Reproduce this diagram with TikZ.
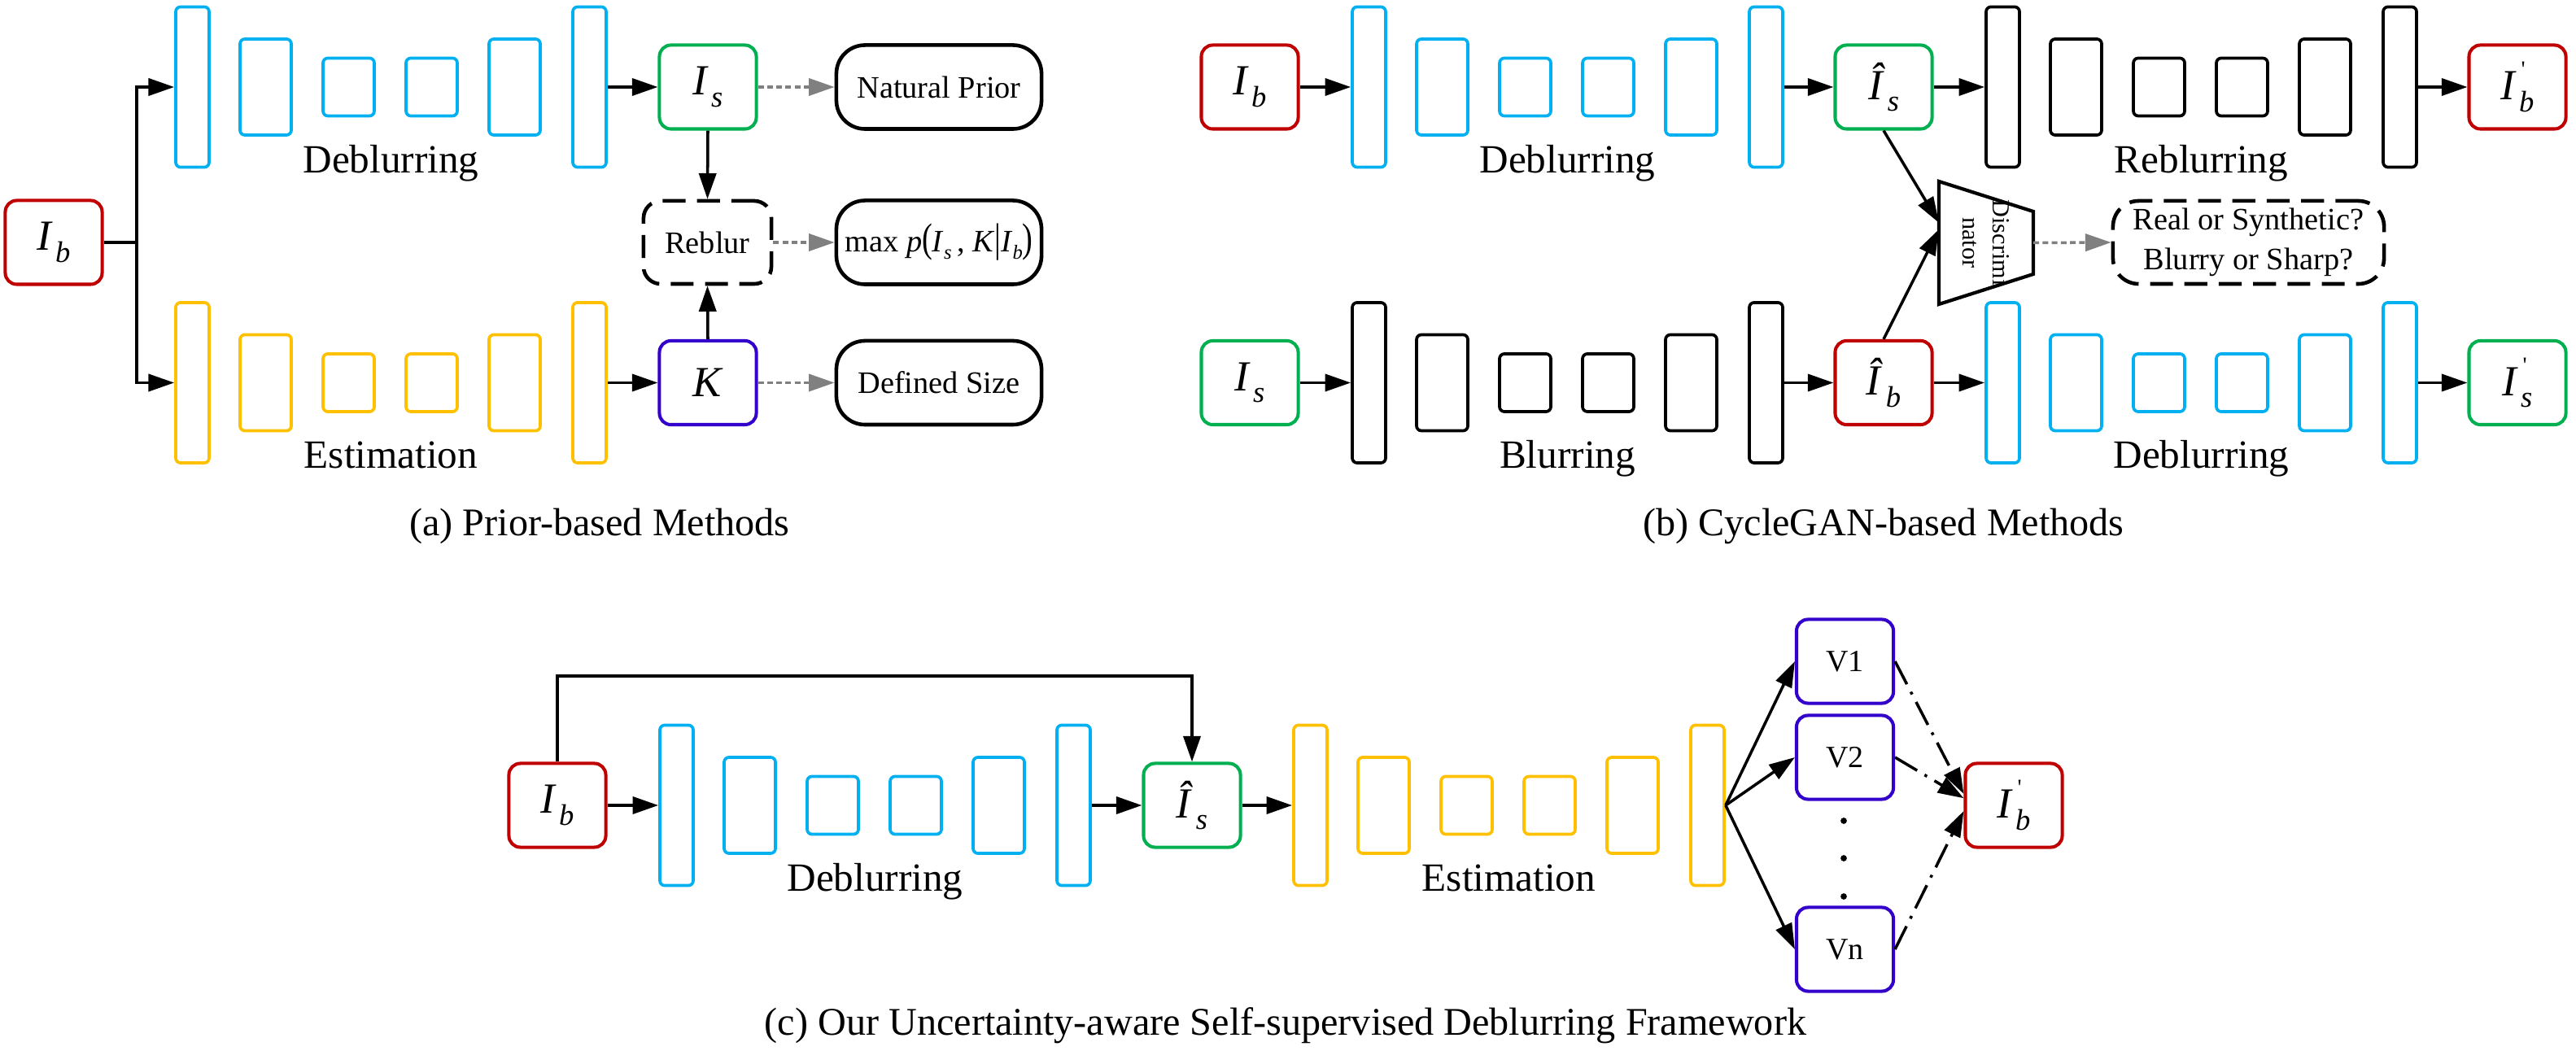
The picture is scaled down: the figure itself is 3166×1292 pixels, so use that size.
\documentclass[tikz,border=0pt]{standalone}
\usepackage{fontspec}
\setmainfont{Liberation Serif}
\usepackage{graphicx}
\usetikzlibrary{arrows.meta}
\usetikzlibrary{positioning}

\definecolor{cyanb}{HTML}{00B0F0}
\definecolor{ambr}{HTML}{FFC000}
\definecolor{redb}{HTML}{C00000}
\definecolor{greenb}{HTML}{00B050}
\definecolor{violb}{HTML}{3300CC}

\newcommand{\imsym}[3]{\textit{#1}\makebox[0pt][l]{\hspace{0.1em}\raisebox{1.15ex}{\fontsize{8}{8}\selectfont #3}}\raisebox{-0.6ex}{\fontsize{10.4}{10}\selectfont\hspace{0.08em}\textit{#2}}}
\newcommand{\smsub}[2]{\textit{#1}\raisebox{-0.5ex}{\fontsize{7}{7}\selectfont\textit{#2}}}
\newcommand{\tallc}[1]{\scalebox{1}[1.3]{#1}}

\begin{document}
\begin{tikzpicture}[x=0.01cm,y=-0.01cm,
    layer/.style={draw,line width=1.05pt,rounded corners=1.7pt,inner sep=0pt},
    symbox/.style={draw,line width=1.15pt,rounded corners=4pt,minimum width=1.19cm,minimum height=1.03cm,inner sep=0pt,font=\fontsize{15}{18}\selectfont},
    txtbox/.style={draw,line width=1.3pt,rounded corners=10pt,minimum width=2.52cm,minimum height=1.03cm,inner sep=0pt,font=\fontsize{10.9}{13}\selectfont},
    dashbox/.style={draw,line width=1.3pt,dash pattern=on 8pt off 4pt,rounded corners=6pt,minimum height=1.02cm,inner sep=0pt,font=\fontsize{10.9}{14}\selectfont},
    vbox/.style={draw=violb,line width=1.15pt,rounded corners=4pt,minimum width=1.19cm,minimum height=1.03cm,inner sep=0pt,font=\fontsize{10.8}{13}\selectfont},
    arr/.style={line width=1pt,-{Triangle[length=9pt,width=6pt]}},
    greyarr/.style={gray,line width=1pt,dash pattern=on 2pt off 1.2pt,-{Triangle[length=9pt,width=6pt]}},
    dotarr/.style={line width=1pt,dash pattern=on 9pt off 3pt on 1pt off 3pt,-{Triangle[length=9pt,width=6pt]}},
    lbl/.style={anchor=base,inner sep=0pt,font=\fontsize{14}{17}\selectfont},
    capt/.style={anchor=base,inner sep=0pt,font=\fontsize{13.7}{16}\selectfont}]
    \useasboundingbox (0,0) rectangle (3166,1292);

    \foreach \m/\L/\C/\col/\txt in {aD/216/107/cyanb/Deblurring, aE/216/470.5/ambr/Estimation,
        bD/1662/107/cyanb/Deblurring, bR/2441/107/black/Reblurring,
        bB/1662/470.5/black/Blurring, bE/2441/470.5/cyanb/Deblurring,
        cD/811/990/cyanb/Deblurring, cE/1590/990/ambr/Estimation} {
        \foreach \k/\dx/\w/\h in {1/20.5/0.41/1.97, 2/110.5/0.63/1.18, 3/212.5/0.63/0.71,
            4/314.5/0.63/0.71, 5/416.5/0.63/1.18, 6/508.5/0.41/1.97}
            \node[layer,draw=\col,minimum width=\w cm,minimum height=\h cm] (\m-\k) at (\L+\dx,\C) {};
        \node[lbl] at (\L+264.5,\C+105.5) {\txt};
    }

    % (a)
    \node[symbox,draw=redb] (aIb) at (66,298) {\imsym{I}{b}{}};
    \node[symbox,draw=greenb] (aIs) at (870,107) {\imsym{I}{s}{}};
    \node[symbox,draw=violb] (aK) at (870,470.5) {\textit{K}};
    \node[dashbox,minimum width=1.57cm] (aReb) at (869.5,298) {Reblur};
    \node[txtbox] (aNP) at (1154,107) {Natural Prior};
    \node[txtbox] (aMax) at (1154,298) {max \textit{p}\tallc{(}\smsub{I}{s}\,, \textit{K}\tallc{|}\smsub{I}{b}\tallc{)}};
    \node[txtbox] (aDS) at (1154,470.5) {Defined Size};
    \coordinate (aBr) at (168,298);

    \draw[line width=1pt] (aIb.east) -- (aBr);
    \draw[arr] (aBr) |- (aD-1.west);
    \draw[arr] (aBr) |- (aE-1.west);
    \draw[arr] (aD-6.east) -- (aIs.west);
    \draw[arr] (aE-6.east) -- (aK.west);
    \draw[arr] (aIs.south) -- (aReb.north);
    \draw[arr] (aK.north) -- (aReb.south);
    \draw[greyarr] (aIs.east) -- (aNP.west);
    \draw[greyarr] (aReb.east) -- (aMax.west);
    \draw[greyarr] (aK.east) -- (aDS.west);
    \node[capt] at (737,659) {(a) Prior-based Methods};

    % (b)
    \node[symbox,draw=redb] (bIb) at (1536,107) {\imsym{I}{b}{}};
    \node[symbox,draw=greenb] (bIs) at (1536,470.5) {\imsym{I}{s}{}};
    \node[symbox,draw=greenb] (bIsh) at (2315,107) {\imsym{\^{I}}{s}{}};
    \node[symbox,draw=redb] (bIbh) at (2315,470.5) {\imsym{\^{I}}{b}{}};
    \node[symbox,draw=redb] (bIbp) at (3094,107) {\imsym{I}{b}{\textquotesingle}};
    \node[symbox,draw=greenb] (bIsp) at (3094,470.5) {\imsym{I}{s}{\textquotesingle}};
    \node[dashbox,minimum width=3.33cm,rounded corners=9pt,align=center] (bReal) at (2763.5,298) {Real or Synthetic?\\Blurry or Sharp?};

    \coordinate (dW) at (2383,298.5);
    \coordinate (dE) at (2499,298.5);
    \draw[line width=1.2pt,line join=miter] (2383,223) -- (2499,260) -- (2499,337) -- (2383,374) -- cycle;
    \node[rotate=-90,align=center,inner sep=0pt,font=\fontsize{8.6}{10.5}\selectfont] (bDisc) at (2441,298.5) {Discrimi\\nator};

    \draw[arr] (bIb.east) -- (bD-1.west);
    \draw[arr] (bD-6.east) -- (bIsh.west);
    \draw[arr] (bIsh.east) -- (bR-1.west);
    \draw[arr] (bR-6.east) -- (bIbp.west);
    \draw[arr] (bIs.east) -- (bB-1.west);
    \draw[arr] (bB-6.east) -- (bIbh.west);
    \draw[arr] (bIbh.east) -- (bE-1.west);
    \draw[arr] (bE-6.east) -- (bIsp.west);
    \draw[arr] (bIsh.south) -- ([yshift=7pt]dW);
    \draw[arr] (bIbh.north) -- ([yshift=4.7pt]dW);
    \draw[greyarr] (dE) -- (bReal.west);
    \node[capt] at (2315,659) {(b) CycleGAN-based Methods};

    % (c)
    \node[symbox,draw=redb] (cIb) at (685,990) {\imsym{I}{b}{}};
    \node[symbox,draw=greenb] (cIsh) at (1465,990) {\imsym{\^{I}}{s}{}};
    \node[vbox] (cV1) at (2267.5,813) {V1};
    \node[vbox] (cV2) at (2267.5,931) {V2};
    \node[vbox] (cVn) at (2267.5,1167) {Vn};
    \node[symbox,draw=redb] (cIbp) at (2475,990) {\imsym{I}{b}{\textquotesingle}};
    \coordinate (cTop) at (685,831);
    \foreach \y in {1009,1055,1102}
        \fill (2266,\y) circle (1.1pt);

    \draw[arr] (cIb.north) -- (cTop) -| (cIsh.north);
    \draw[arr] (cIb.east) -- (cD-1.west);
    \draw[arr] (cD-6.east) -- (cIsh.west);
    \draw[arr] (cIsh.east) -- (cE-1.west);
    \draw[arr] (cE-6.east) -- (cV1.west);
    \draw[arr] (cE-6.east) -- (cV2.west);
    \draw[arr] (cE-6.east) -- (cVn.west);
    \draw[dotarr] (cV1.east) -- ([yshift=4pt]cIbp.west);
    \draw[dotarr] (cV2.east) -- ([yshift=2.5pt]cIbp.west);
    \draw[dotarr] (cVn.east) -- ([yshift=-2pt]cIbp.west);
    \node[capt] at (1580,1272) {(c) Our Uncertainty-aware Self-supervised Deblurring Framework};
\end{tikzpicture}
\end{document}
